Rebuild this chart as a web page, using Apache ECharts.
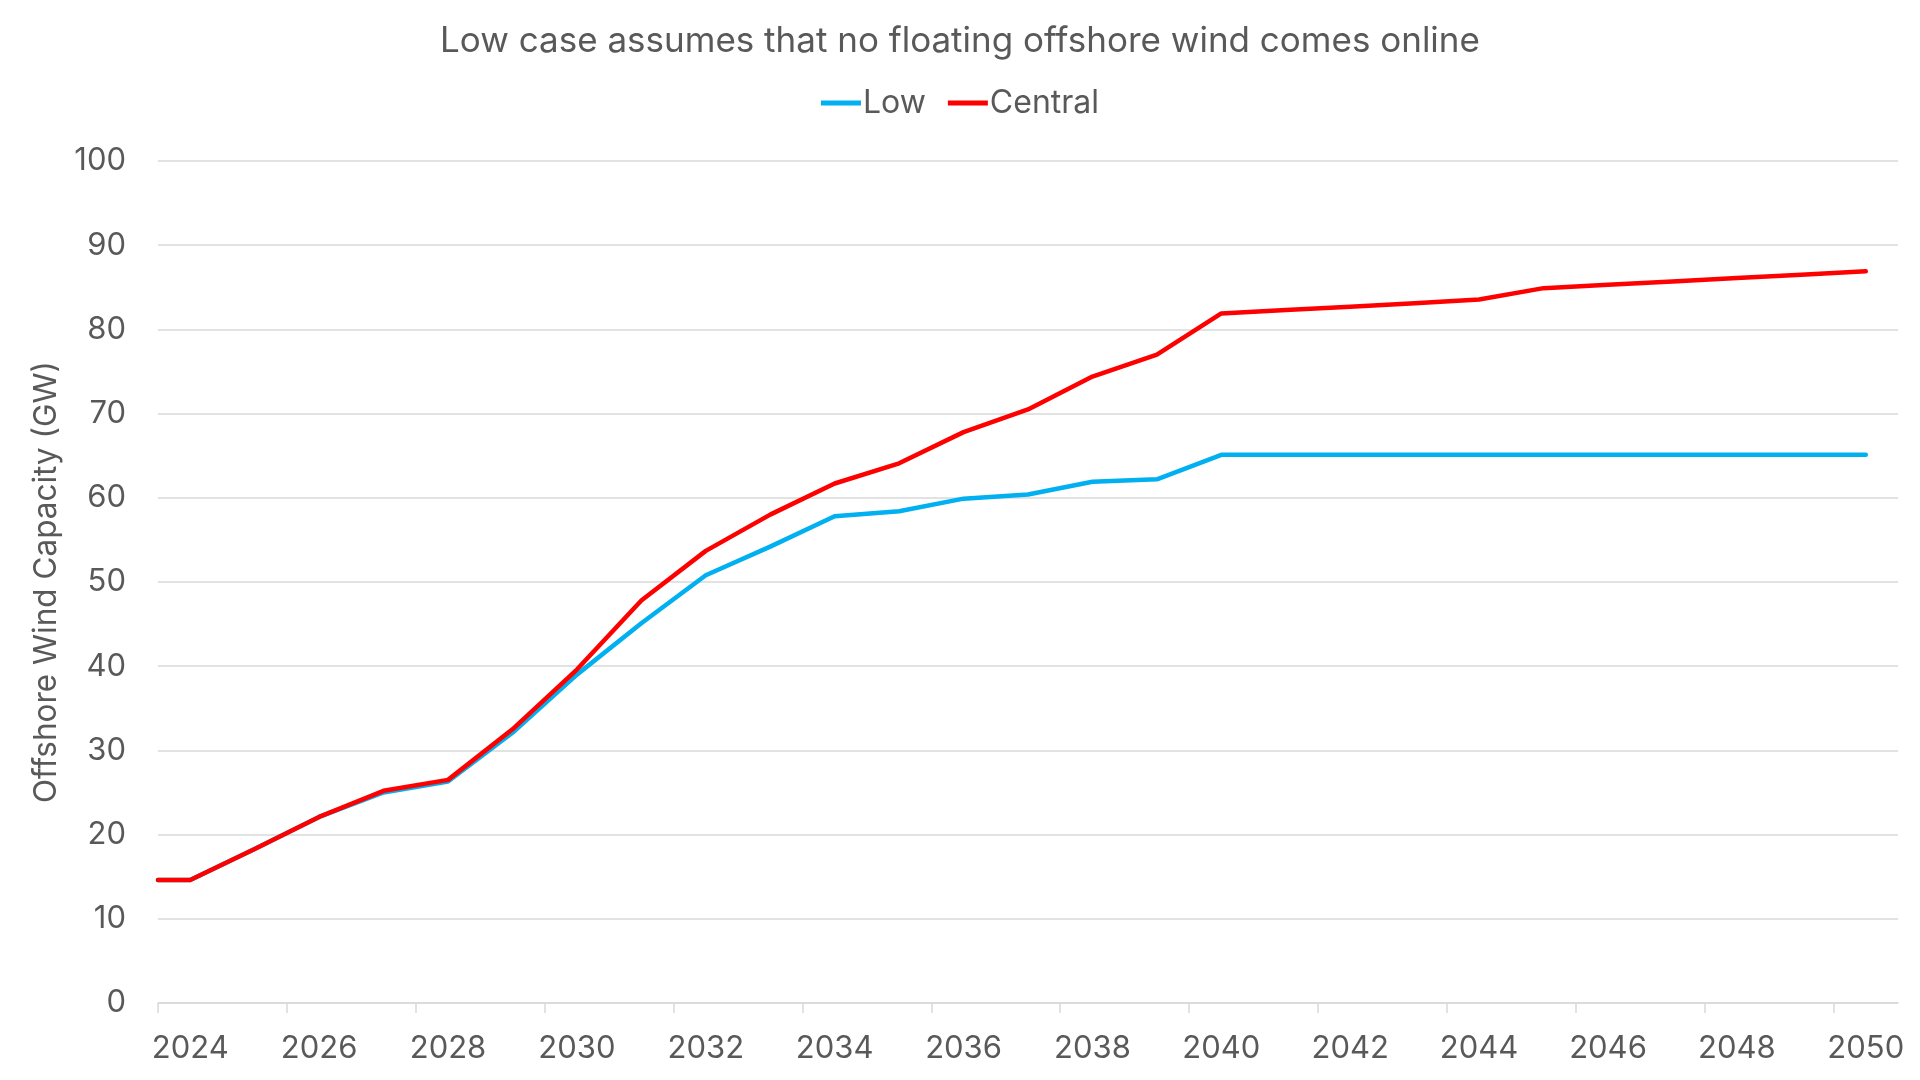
<!DOCTYPE html>
<html>
<head>
<meta charset="utf-8">
<script src="https://cdn.jsdelivr.net/npm/echarts@6/dist/echarts.min.js"></script>
<style>
  html, body { margin: 0; padding: 0; background: #ffffff; }
  #chart { width: 1920px; height: 1080px; }
</style>
</head>
<body>
<div id="chart"></div>
<script>
const titleText = 'Low case assumes that no floating offshore wind comes online';
const yAxisTitle = 'Offshore Wind Capacity (GW)';
const seriesNames = ['Low', 'Central'];
const years = [2024, 2025, 2026, 2027, 2028, 2029, 2030, 2031, 2032, 2033, 2034, 2035, 2036, 2037,
  2038, 2039, 2040, 2041, 2042, 2043, 2044, 2045, 2046, 2047, 2048, 2049, 2050];
const lowValues = [14.6, 18.3, 22.1, 25.0, 26.3, 32.1, 39.0, 45.1, 50.8, 54.2, 57.8, 58.4, 59.9, 60.4,
  61.9, 62.2, 65.1, 65.1, 65.1, 65.1, 65.1, 65.1, 65.1, 65.1, 65.1, 65.1, 65.1];
const centralValues = [14.6, 18.3, 22.1, 25.2, 26.5, 32.5, 39.6, 47.8, 53.7, 58.0, 61.7, 64.1, 67.8, 70.5,
  74.4, 77.0, 81.9, 82.3, 82.7, 83.1, 83.55, 84.9, 85.3, 85.7, 86.1, 86.5, 86.9];
const lowStart = 14.6;
const centralStart = 14.6;
const xLabelYears = [2024, 2026, 2028, 2030, 2032, 2034, 2036, 2038, 2040, 2042, 2044, 2046, 2048, 2050];
const yTicks = [0, 10, 20, 30, 40, 50, 60, 70, 80, 90, 100];

const FONT = 'Inter, "Open Sans", sans-serif';
const TXT = '#595959';
const GRID = '#D9D9D9';
const xMin = years[0] - 0.5;
const xMax = years[years.length - 1] + 0.5;

function build(start, vals) {
  return [[xMin, start]].concat(years.map((y, i) => [y, vals[i]]));
}

const chart = echarts.init(document.getElementById('chart'), null, { renderer: 'canvas' });
chart.setOption({
  backgroundColor: '#ffffff',
  animation: false,
  textStyle: { fontFamily: FONT },
  title: {
    text: titleText,
    left: 'center',
    top: 19,
    textStyle: { fontFamily: FONT, fontSize: 35, fontWeight: 'normal', color: TXT }
  },
  legend: {
    data: seriesNames,
    top: 82,
    left: 'center',
    itemWidth: 40,
    itemHeight: 5,
    itemGap: 22,
    icon: 'rect',
    textStyle: { fontFamily: FONT, fontSize: 32, color: TXT, padding: [0, 0, 0, -3] }
  },
  grid: { left: 158, right: 22, top: 161, bottom: 77, containLabel: false },
  xAxis: {
    type: 'value',
    min: xMin,
    max: xMax,
    axisLine: { show: true, lineStyle: { color: GRID, width: 1.5 } },
    axisTick: {
      show: true, length: 10, lineStyle: { color: GRID, width: 1.5 },
      customValues: xLabelYears.map(y => y - 0.5)
    },
    axisLabel: {
      customValues: xLabelYears,
      formatter: v => String(v),
      fontFamily: FONT, fontSize: 31, color: TXT, margin: 30
    },
    splitLine: { show: false }
  },
  yAxis: {
    type: 'value',
    min: yTicks[0],
    max: yTicks[yTicks.length - 1],
    interval: 10,
    name: yAxisTitle,
    nameLocation: 'middle',
    nameRotate: 90,
    nameGap: 95,
    nameTextStyle: { fontFamily: FONT, fontSize: 31.5, color: TXT },
    axisLine: { show: false },
    axisTick: { show: false },
    axisLabel: { fontFamily: FONT, fontSize: 31, color: TXT, margin: 32 },
    splitLine: { show: true, lineStyle: { color: GRID, width: 1.5 } }
  },
  series: [
    {
      name: seriesNames[0], type: 'line', data: build(lowStart, lowValues),
      showSymbol: false, symbol: 'none',
      lineStyle: { color: '#00B0F0', width: 4.5, cap: 'round', join: 'round' },
      itemStyle: { color: '#00B0F0' }
    },
    {
      name: seriesNames[1], type: 'line', data: build(centralStart, centralValues),
      showSymbol: false, symbol: 'none',
      lineStyle: { color: '#FF0000', width: 4.5, cap: 'round', join: 'round' },
      itemStyle: { color: '#FF0000' }
    }
  ]
});
</script>
</body>
</html>
